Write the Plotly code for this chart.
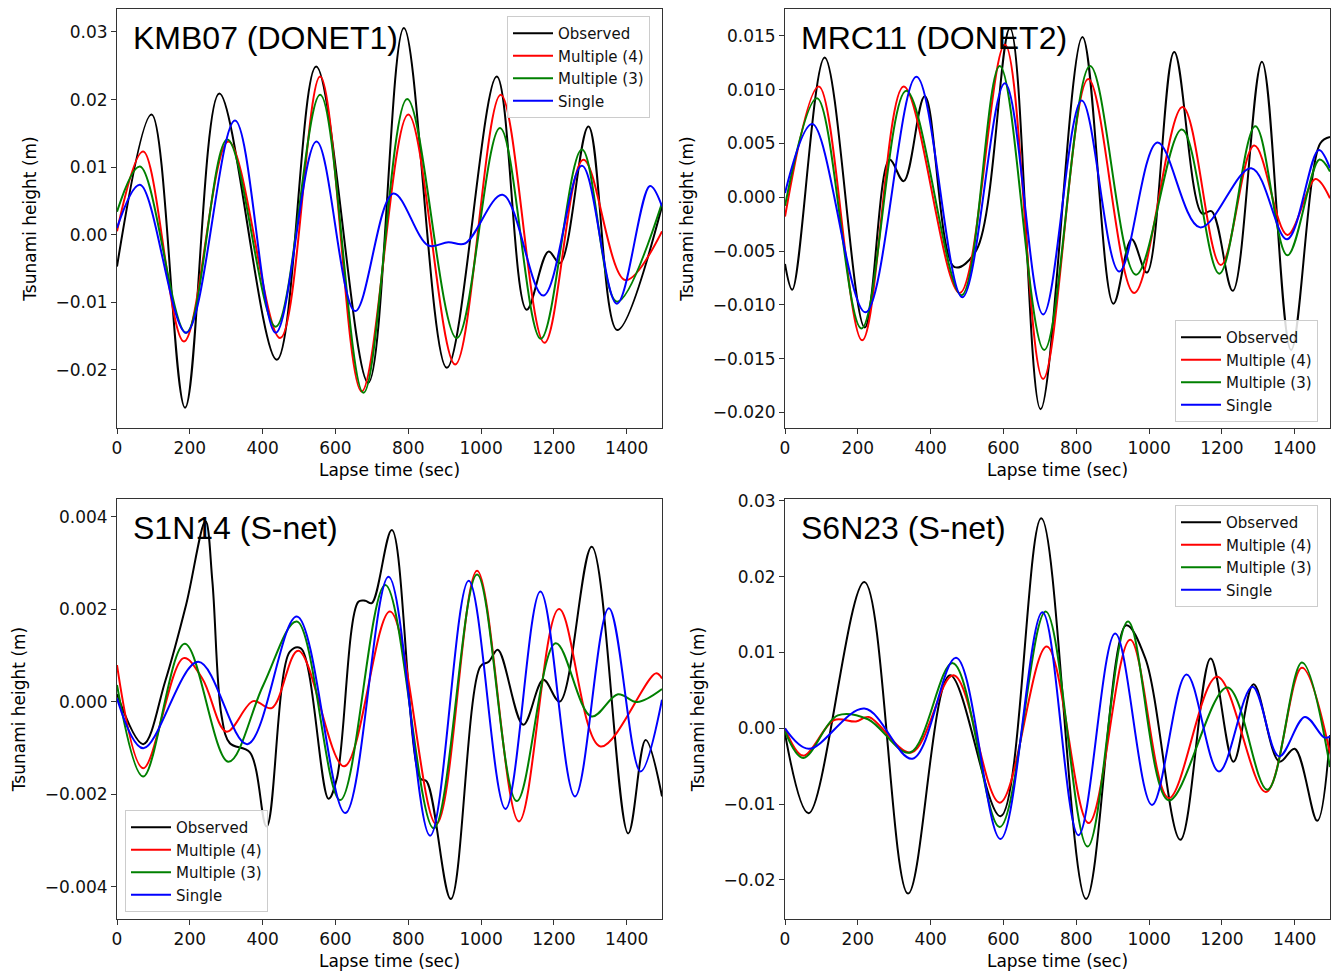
import plotly.graph_objects as go

# ---------------- data ----------------
x_ticks = [0, 200, 400, 600, 800, 1000, 1200, 1400]
series_names = ["Observed", "Multiple (4)", "Multiple (3)", "Single"]
series_colors = ["black", "red", "green", "blue"]
station_labels = ["KMB07 (DONET1)", "MRC11 (DONET2)", "S1N14 (S-net)", "S6N23 (S-net)"]

# KMB07 (DONET1)
kmb_obs_t = [0, 95, 187, 281, 439, 547, 690, 788, 906, 1043, 1125, 1185, 1217, 1295, 1374, 1497]
kmb_obs_h = [-0.0047, 0.0178, -0.0256, 0.0209, -0.0185, 0.0249, -0.0219, 0.0306, -0.0197, 0.0234,
             -0.0111, -0.0025, -0.0042, 0.0160, -0.0141, 0.0042]
kmb_m4_t = [0, 72, 184, 306, 448, 558, 672, 800, 929, 1054, 1174, 1281, 1396, 1497]
kmb_m4_h = [0.0005, 0.0123, -0.0158, 0.0138, -0.0153, 0.0234, -0.0232, 0.0178, -0.0192, 0.0207,
            -0.0160, 0.0111, -0.0067, 0.0005]
kmb_m3_t = [0, 63, 190, 303, 436, 558, 677, 797, 933, 1052, 1164, 1277, 1373, 1497]
kmb_m3_h = [0.0034, 0.0101, -0.0145, 0.0141, -0.0136, 0.0207, -0.0234, 0.0201, -0.0153, 0.0158,
            -0.0154, 0.0126, -0.0099, 0.0047]
kmb_single_t = [0, 63, 190, 324, 436, 548, 654, 759, 855, 910, 956, 1059, 1171, 1277, 1373, 1464, 1497]
kmb_single_h = [0.0010, 0.0074, -0.0145, 0.0169, -0.0145, 0.0138, -0.0113, 0.0061, -0.0016, -0.0011,
                -0.0013, 0.0059, -0.0090, 0.0102, -0.0102, 0.0072, 0.0042]

# MRC11 (DONET2)
mrc_obs_t = [0, 20, 109, 219, 287, 326, 384, 466, 526, 618, 702, 817, 902, 952, 994, 1069, 1145,
             1172, 1230, 1310, 1390, 1470, 1497]
mrc_obs_h = [-0.0062, -0.0086, 0.0130, -0.0121, 0.0035, 0.0015, 0.0094, -0.0065, -0.0049, 0.0157,
             -0.0197, 0.0149, -0.0099, -0.0039, -0.0070, 0.0135, -0.0015, -0.0013, -0.0087, 0.0126,
             -0.0142, 0.0050, 0.0056]
mrc_m4_t = [0, 93, 212, 326, 480, 604, 709, 833, 959, 1092, 1197, 1289, 1380, 1457, 1497]
mrc_m4_h = [-0.0018, 0.0103, -0.0133, 0.0103, -0.0089, 0.0142, -0.0169, 0.0110, -0.0089, 0.0084,
            -0.0063, 0.0048, -0.0035, 0.0017, -0.0001]
mrc_m3_t = [0, 88, 210, 333, 485, 590, 712, 838, 964, 1090, 1193, 1292, 1380, 1468, 1497]
mrc_m3_h = [-0.0008, 0.0092, -0.0122, 0.0099, -0.0091, 0.0122, -0.0142, 0.0122, -0.0072, 0.0063,
            -0.0071, 0.0066, -0.0054, 0.0035, 0.0024]
mrc_single_t = [0, 75, 221, 361, 487, 604, 709, 815, 918, 1023, 1140, 1281, 1379, 1466, 1497]
mrc_single_h = [0.0004, 0.0068, -0.0107, 0.0112, -0.0093, 0.0106, -0.0109, 0.0090, -0.0069, 0.0051,
                -0.0028, 0.0027, -0.0039, 0.0044, 0.0027]

# S1N14 (S-net)
s1_obs_t = [0, 72, 132, 190, 243, 262, 287, 310, 365, 411, 475, 505, 581, 604, 663, 682, 700, 755,
            833, 851, 917, 998, 1021, 1046, 1116, 1171, 1216, 1304, 1404, 1452, 1497]
s1_obs_h = [0.00016, -0.00092, 0.00043, 0.0021, 0.0039, 0.0026, -0.0003, -0.0009, -0.0011, -0.0027,
            0.00108, 0.00115, -0.0021, -0.00166, 0.00216, 0.00218, 0.00213, 0.00371, -0.00166,
            -0.00173, -0.00427, 0.00076, 0.00086, 0.00112, -0.0005, 0.00047, 0.0, 0.00335, -0.00285,
            -0.00083, -0.00205]
s1_m4_t = [0, 72, 183, 235, 301, 374, 425, 498, 624, 750, 877, 989, 1104, 1214, 1328, 1480, 1497]
s1_m4_h = [0.00079, -0.00144, 0.00094, 0.00049, -0.00065, 0.00001, -0.00014, 0.0011, -0.0014, 0.00195,
           -0.00265, 0.00283, -0.00259, 0.0020, -0.00097, 0.00061, 0.0005]
s1_m3_t = [0, 72, 186, 306, 402, 494, 613, 737, 870, 989, 1098, 1205, 1303, 1376, 1429, 1497]
s1_m3_h = [0.00036, -0.00162, 0.00125, -0.0013, 0.00036, 0.00173, -0.00213, 0.00252, -0.00274,
           0.00275, -0.00215, 0.00126, -0.00032, 0.00016, -0.00001, 0.00027]
s1_single_t = [0, 72, 223, 358, 494, 627, 746, 860, 966, 1067, 1163, 1258, 1351, 1438, 1497]
s1_single_h = [0.00007, -0.00101, 0.00086, -0.00092, 0.00184, -0.00241, 0.0027, -0.0029, 0.00261,
               -0.00232, 0.00238, -0.00205, 0.00202, -0.00151, 0.00004]

# S6N23 (S-net)
s6_obs_t = [0, 65, 218, 338, 453, 592, 704, 827, 937, 990, 1086, 1169, 1232, 1287, 1358, 1400, 1462, 1497]
s6_obs_h = [-0.0007, -0.0112, 0.0193, -0.0218, 0.0070, -0.0116, 0.0277, -0.0225, 0.0136, 0.0092,
            -0.0147, 0.0092, -0.0044, 0.0058, -0.0044, -0.0027, -0.0122, -0.0009]
s6_m4_t = [0, 50, 135, 195, 230, 347, 463, 590, 719, 834, 948, 1054, 1187, 1321, 1420, 1497]
s6_m4_h = [0.0, -0.0036, 0.0011, 0.0009, 0.0015, -0.0032, 0.0070, -0.0098, 0.0108, -0.0125, 0.0117,
           -0.0092, 0.0068, -0.0084, 0.0080, -0.0033]
s6_m3_t = [0, 50, 145, 228, 343, 461, 590, 716, 831, 942, 1054, 1215, 1325, 1420, 1497]
s6_m3_h = [-0.0004, -0.0039, 0.0017, 0.0012, -0.0032, 0.0086, -0.0130, 0.0154, -0.0156, 0.0141,
           -0.0095, 0.0054, -0.0081, 0.0087, -0.0051]
s6_single_t = [0, 65, 218, 350, 470, 592, 707, 806, 907, 1008, 1103, 1192, 1284, 1357, 1428, 1481, 1497]
s6_single_h = [0.0, -0.0027, 0.0026, -0.0040, 0.0093, -0.0146, 0.0153, -0.0141, 0.0125, -0.0101,
               0.0071, -0.0057, 0.0055, -0.0037, 0.0015, -0.0012, -0.0011]

# ---------------- layout helpers (page pixels -> paper) ----------------
W, H = 1338, 974


def fx(p):
    return p / W


def fy(p):
    return 1 - p / H


panels = [
    dict(series=[(kmb_obs_t, kmb_obs_h), (kmb_m4_t, kmb_m4_h), (kmb_m3_t, kmb_m3_h), (kmb_single_t, kmb_single_h)],
         xd=(117, 662), yd=(9, 428), yr=(-0.0286, 0.0334), dtick=0.01, fmt=".2f",
         legend=dict(x=507, y=16), label=(131, 38)),
    dict(series=[(mrc_obs_t, mrc_obs_h), (mrc_m4_t, mrc_m4_h), (mrc_m3_t, mrc_m3_h), (mrc_single_t, mrc_single_h)],
         xd=(785, 1330), yd=(9, 428), yr=(-0.02145, 0.0175), dtick=0.005, fmt=".3f",
         legend=dict(x=1175, y=320), label=(799, 38)),
    dict(series=[(s1_obs_t, s1_obs_h), (s1_m4_t, s1_m4_h), (s1_m3_t, s1_m3_h), (s1_single_t, s1_single_h)],
         xd=(117, 662), yd=(499, 919), yr=(-0.0047, 0.00438), dtick=0.002, fmt=".3f",
         legend=dict(x=125, y=810), label=(131, 528)),
    dict(series=[(s6_obs_t, s6_obs_h), (s6_m4_t, s6_m4_h), (s6_m3_t, s6_m3_h), (s6_single_t, s6_single_h)],
         xd=(785, 1330), yd=(499, 919), yr=(-0.02515, 0.03025), dtick=0.01, fmt=".2f",
         legend=dict(x=1175, y=505), label=(799, 528)),
]

FONT = "DejaVu Sans"
fig = go.Figure()
layout = dict(
    width=W, height=H,
    margin=dict(l=0, r=0, t=0, b=0, autoexpand=False),
    paper_bgcolor="white", plot_bgcolor="white",
    font=dict(family=FONT, size=17, color="black"),
    annotations=[],
)

for i, p in enumerate(panels):
    n = "" if i == 0 else str(i + 1)
    lg = "legend" if i == 0 else "legend" + str(i + 1)
    for j, (t, h) in enumerate(p["series"]):
        fig.add_trace(go.Scatter(
            x=t, y=h, mode="lines", name=series_names[j],
            line=dict(color=series_colors[j], width=2, shape="spline", smoothing=1.0),
            xaxis="x" + n, yaxis="y" + n, legend=lg,
        ))
    axis_common = dict(showgrid=False, zeroline=False, showline=True, mirror=True, automargin=False,
                       linecolor="#333", linewidth=1, ticks="outside", ticklen=5,
                       tickcolor="#333", tickfont=dict(size=17, family=FONT, color="#111"))
    layout["xaxis" + n] = dict(
        axis_common, domain=[fx(p["xd"][0]), fx(p["xd"][1])], range=[0, 1497],
        tickvals=x_ticks, anchor="y" + n,
        title=dict(text="Lapse time (sec)", font=dict(size=17, family=FONT), standoff=6),
    )
    layout["yaxis" + n] = dict(
        axis_common, domain=[fy(p["yd"][1]), fy(p["yd"][0])], range=list(p["yr"]),
        dtick=p["dtick"], tickformat=p["fmt"], anchor="x" + n,
        title=dict(text="Tsunami height (m)", font=dict(size=17, family=FONT), standoff=14),
    )
    layout[lg] = dict(
        x=fx(p["legend"]["x"]), y=fy(p["legend"]["y"]), xanchor="left", yanchor="top",
        bgcolor="rgba(255,255,255,0.85)", bordercolor="#cccccc", borderwidth=1,
        font=dict(size=15, family=FONT, color="#111"), tracegroupgap=2, itemwidth=40,
    )
    layout["annotations"].append(dict(
        text=station_labels[i], x=fx(p["label"][0]), y=fy(p["label"][1]),
        xref="paper", yref="paper", xanchor="left", yanchor="middle", showarrow=False,
        font=dict(family="Liberation Sans", size=32, color="black"),
    ))

fig.update_layout(**layout)
fig.write_html("out.html", config={"displayModeBar": False},
               post_script="document.body.style.margin='0';document.body.style.overflow='hidden';")
